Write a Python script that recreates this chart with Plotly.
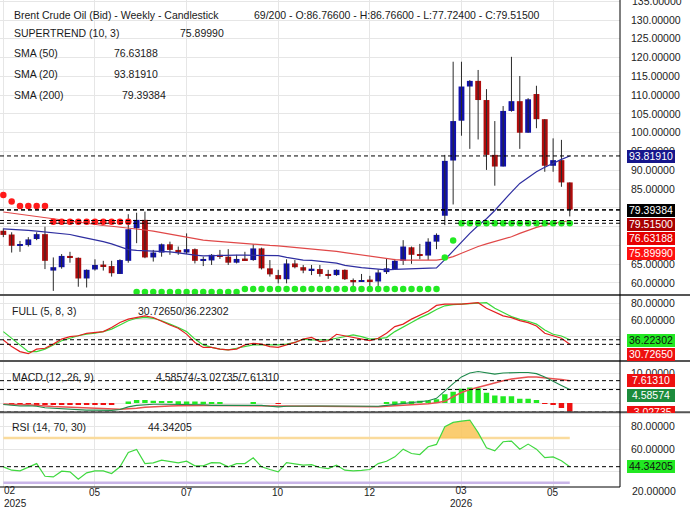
import plotly.graph_objects as go
from plotly.subplots import make_subplots

# ---------------- data (69 bars) ----------------
bar_idx = list(range(69))

opens = [73.9, 72.9, 69.85, 70.1, 71.7, 73.0, 63.3, 64.2, 67.2, 66.7,
         61.2, 63.6, 64.7, 64.5, 62.4, 65.9, 74.55, 76.8, 66.8, 68.1,
         70.3, 68.8, 68.1, 69.0, 66.0, 66.0, 67.5, 67.0, 65.4, 66.4,
         66.1, 69.2, 63.9, 62.1, 61.0, 65.2, 64.2, 63.4, 63.7, 62.2,
         62.1, 63.5, 60.8, 60.3, 60.7, 60.4, 62.9, 63.7, 65.9, 69.5,
         67.5, 67.3, 71.0, 77.9, 92.6, 103.2, 112.3, 113.8, 108.7, 94.1,
         91.0, 105.8, 108.4, 100.0, 110.3, 103.6, 91.2, 92.7, 86.766]
highs = [74.5, 73.5, 71.2, 72.2, 73.5, 75.0, 66.8, 67.7, 68.3, 66.8,
         63.6, 66.3, 65.9, 65.9, 66.3, 78.3, 78.7, 79.0, 68.8, 70.5,
         71.0, 69.7, 73.2, 69.2, 67.0, 67.7, 68.8, 69.0, 67.5, 68.3,
         70.3, 69.4, 66.1, 63.5, 66.3, 66.1, 64.8, 64.8, 64.8, 63.5,
         63.6, 63.6, 61.2, 62.4, 61.9, 63.6, 66.6, 66.4, 71.4, 69.7,
         70.4, 71.9, 73.2, 94.1, 118.9, 118.9, 114.0, 116.7, 111.6, 103.1,
         107.1, 120.2, 115.1, 109.2, 112.5, 103.6, 98.5, 98.1, 86.766]
lows = [72.2, 68.1, 68.3, 69.7, 71.4, 63.7, 57.9, 63.8, 65.4, 59.0,
        58.8, 63.3, 63.3, 61.7, 62.4, 65.4, 70.6, 66.6, 65.7, 67.0,
        67.5, 67.5, 67.7, 65.2, 64.5, 64.8, 66.4, 64.8, 65.2, 66.0,
        65.9, 63.6, 61.7, 59.9, 59.9, 63.9, 62.6, 62.1, 61.7, 61.1,
        61.9, 60.8, 58.6, 60.3, 59.2, 59.2, 62.4, 63.5, 64.8, 65.1,
        66.3, 66.1, 69.0, 75.4, 80.9, 99.2, 95.7, 98.2, 90.1, 85.9,
        91.0, 105.6, 95.7, 100.0, 101.2, 89.6, 89.6, 85.6, 77.724]
closes = [72.8, 69.9, 70.05, 71.6, 73.0, 65.9, 64.2, 67.2, 66.8, 61.2,
          63.5, 64.8, 64.5, 62.6, 66.1, 74.3, 76.8, 66.8, 68.1, 70.3,
          68.8, 68.1, 69.0, 65.9, 66.3, 67.5, 67.0, 65.4, 66.4, 66.1,
          69.2, 63.9, 62.3, 61.0, 65.2, 64.2, 63.3, 63.6, 62.4, 62.0,
          63.5, 61.0, 60.2, 60.6, 60.5, 62.8, 63.9, 65.9, 69.7, 67.5,
          67.2, 71.0, 72.8, 92.5, 103.1, 112.3, 113.8, 108.7, 94.1, 91.0,
          105.8, 108.4, 100.0, 108.9, 103.6, 91.2, 92.7, 86.766, 79.515]

sma20 = [74.4, 74.3, 74.2, 74.0, 73.8, 73.6, 73.3, 73.1, 72.9, 72.4,
         72.0, 71.6, 71.0, 70.4, 69.7, 68.9, 68.7, 68.6, 68.5, 68.4,
         68.3, 68.0, 67.6, 67.4, 67.2, 67.3, 67.4, 67.4, 67.4, 67.4,
         67.4, 67.4, 67.4, 67.3, 66.8, 66.4, 66.1, 66.0, 65.8, 65.7,
         65.3, 64.7, 64.3, 64.1, 63.9, 63.7, 63.5, 63.6, 63.7, 63.8,
         63.9, 63.9, 64.0, 66.2, 68.5, 71.0, 73.2, 75.3, 77.1, 79.3,
         81.9, 84.2, 86.5, 88.1, 89.6, 90.8, 91.9, 92.9, 93.8191]
sma50 = [78.9, 78.6, 78.3, 77.9, 77.6, 77.4, 77.1, 76.8, 76.5, 76.2,
         75.9, 75.6, 75.3, 75.1, 74.9, 74.7, 74.4, 74.1, 73.8, 73.4,
         73.0, 72.5, 72.0, 71.6, 71.4, 71.2, 71.0, 70.8, 70.7, 70.5,
         70.4, 70.2, 70.0, 69.9, 69.7, 69.5, 69.3, 69.1, 68.9, 68.6,
         68.4, 68.1, 67.8, 67.5, 67.1, 66.7, 66.4, 66.2, 66.1, 66.1,
         66.1, 66.1, 66.1, 66.4, 67.0, 67.9, 68.9, 69.7, 70.4, 71.0,
         71.7, 72.3, 73.2, 74.1, 74.8, 75.4, 75.8, 76.2, 76.63188]
sma200_last = 79.39384

# supertrend: bearish (dots above) for the first 16 bars, bullish afterwards
supertrend = [83.4, 81.7, 80.5, 80.5, 80.5, 80.5, 76.3, 76.3, 76.3, 76.3,
              76.3, 76.3, 76.3, 76.3, 76.3, 76.3, 57.6, 57.6, 57.6, 57.6,
              57.6, 57.6, 57.6, 57.6, 57.6, 57.6, 57.6, 57.6, 57.6, 58.4,
              58.4, 58.4, 58.4, 58.4, 58.4, 58.4, 58.4, 58.4, 58.4, 58.4,
              58.4, 58.4, 58.4, 58.4, 58.4, 58.4, 58.4, 58.4, 58.4, 58.4,
              58.4, 58.4, 58.4, 66.8, 71.3, 75.9, 75.9, 75.9, 75.9, 75.9,
              75.9, 75.9, 75.9, 75.9, 75.9, 75.9, 75.9, 75.9, 75.8999]
st_flip = 16

stoch_k = [36, 28, 22, 19.5, 25, 26, 31, 37, 40, 41,
           44, 45, 46, 51, 57, 61, 63, 65, 63, 58,
           54, 50, 43, 33, 27, 27, 25, 24, 25, 30,
           32, 31, 28, 27, 30, 33, 37, 39, 34, 35,
           42.8, 41, 38.8, 37, 35.2, 38, 44, 52, 55, 61,
           65.5, 70.5, 77.5, 79, 79, 79, 80, 80.8, 74, 69,
           65, 62.8, 59.2, 56.8, 52.8, 44, 40.8, 38, 30.7265]
stoch_d = [46, 38, 30, 22, 22, 25, 30, 35, 38, 41,
           43, 44, 46, 49, 54, 59, 62, 63, 62, 59,
           55, 51, 46, 37, 30, 27, 25, 24, 26, 28,
           30, 30, 30, 30, 31, 33, 37, 36, 36, 36,
           38, 40, 42, 40, 37, 37.5, 38.8, 46, 52, 57,
           62.5, 67, 72.5, 77, 78.5, 79, 80, 80.8, 80.8, 74,
           68.8, 64, 60.8, 58.5, 55, 48, 42.8, 40.8, 36.22302]

macd_line = [-0.5, -0.8, -1.0, -0.9, -1.1, -1.6, -1.8, -1.9, -2.1, -2.3,
             -2.4, -2.4, -2.5, -2.5, -2.2, -1.3, -0.8, -0.5, -0.4, -0.4,
             -0.4, -0.45, -0.5, -0.5, -0.6, -0.8, -0.8, -0.8, -0.8, -0.7,
             -0.7, -0.8, -1.1, -1.3, -1.1, -1.0, -1.0, -1.0, -1.0, -1.0,
             -1.0, -1.05, -1.1, -1.2, -1.25, -1.1, -0.8, -0.5, -0.15, 0.1,
             0.3, 0.8, 1.6, 4.2, 6.6, 8.9, 10.2, 10.75, 10.4, 9.85,
             10.2, 10.4, 10.4, 10.4, 10.0, 8.85, 7.3, 6.0, 4.58574]
macd_signal = [-0.3, -0.5, -0.6, -0.6, -0.7, -1.0, -1.2, -1.3, -1.5, -1.7,
               -1.8, -1.9, -2.0, -2.1, -2.1, -1.9, -1.8, -1.4, -1.2, -1.1,
               -1.0, -0.9, -0.8, -0.8, -0.8, -0.8, -0.8, -0.8, -0.8, -0.8,
               -0.8, -0.8, -0.9, -1.0, -1.0, -1.0, -1.0, -1.05, -1.1, -1.15,
               -1.2, -1.25, -1.3, -1.3, -1.35, -1.3, -1.1, -0.95, -0.8, -0.6,
               -0.4, -0.2, 0.1, 0.6, 2.2, 3.6, 4.6, 5.4, 6.2, 6.8,
               7.6, 8.2, 8.6, 8.85, 8.85, 8.7, 8.3, 8.0, 7.6131]
macd_hist = [0, -0.3, -0.35, -0.3, -0.4, -0.55, -0.6, -0.6, -0.6, -0.6,
             -0.6, -0.5, -0.5, -0.4, 0, 0.5, 1.0, 1.0, 0.8, 0.7,
             0.7, 0.6, 0.5, 0.5, 0.4, 0.3, 0.2, 0, 0, 0,
             0.3, 0, 0, -0.3, 0, 0, 0, 0, 0, 0,
             0, 0, 0, 0, 0, 0, 0.3, 0.5, 0.6, 0.6,
             0.8, 0.9, 1.3, 3.0, 3.8, 4.9, 5.3, 5.0, 3.5, 2.6,
             2.3, 2.3, 1.5, 1.5, 1.0, -0.2, -0.6, -1.7, -3.02735]

rsi = [44.2, 41.2, 40.6, 43.6, 47.1, 35.8, 35.2, 40.3, 39.7, 33.1,
       38.8, 40.6, 40.6, 38.2, 44.2, 57.0, 59.7, 47.1, 47.7, 50.1,
       48.6, 47.7, 49.2, 45.1, 45.1, 48.0, 47.7, 44.2, 47.1, 47.1,
       52.2, 44.2, 41.8, 39.7, 48.0, 46.6, 45.7, 46.2, 43.6, 42.7,
       45.7, 41.2, 40.6, 41.0, 41.8, 47.1, 49.2, 53.1, 60.0, 56.1,
       55.2, 62.1, 64.2, 80.0, 83.9, 85.1, 86.0, 74.7, 61.2, 58.5,
       66.6, 67.2, 60.0, 64.5, 60.0, 52.5, 53.1, 49.6, 44.34205]
RSI_HIGH, RSI_LOW = 70, 30

tick_bars = [0, 11, 22, 33, 44, 55, 66]
tick_months = ["02", "05", "07", "10", "12", "03", "05"]
tick_years = ["2025", "", "", "", "", "2026", ""]

price_ticks = [60, 65, 70, 75, 80, 85, 90, 95, 100, 105, 110, 115, 120, 125, 130, 135]
hidden_price_ticks = [70, 75, 80]   # sit behind the value boxes
top_price_label = 135               # half cut by the top edge, drawn separately

# ---------------- layout constants ----------------
FONT = "Liberation Sans"
FS = 10.5
PLOT_W, PLOT_H = 620, 487
PANE_PX = [(0, 295), (295, 361), (361, 412.3), (412.3, 487)]   # main, full, macd, rsi
X_RANGE = [-0.4, 74.03]
RANGES = [[56.8, 135.33], [10.7, 90.0], [-3.15, 14.3], [26.2, 92.9]]

BLUE, DARKRED = "#1010aa", "#b00c0c"
GRID = "#e6e6e6"
BOX_H, BOX_STEP = 12.5, 14.3

fig = make_subplots(rows=4, cols=1, shared_xaxes=True, vertical_spacing=0)

# ---- main pane: candles, SMAs, supertrend ----
wick_x, wick_y = [], []
for i, h, l in zip(bar_idx, highs, lows):
    wick_x += [i, i, None]
    wick_y += [l, h, None]
fig.add_trace(go.Scatter(x=wick_x, y=wick_y, mode="lines",
                         line=dict(color="#2a2a2a", width=1)), row=1, col=1)

body_base = [min(o, c) for o, c in zip(opens, closes)]
body_len = [max(abs(c - o), 0.4) for o, c in zip(opens, closes)]
body_col = [BLUE if c >= o else DARKRED for o, c in zip(opens, closes)]
fig.add_trace(go.Bar(x=bar_idx, y=body_len, base=body_base, width=0.7,
                     marker=dict(color=body_col, line=dict(width=0))), row=1, col=1)

fig.add_trace(go.Scatter(x=bar_idx, y=sma50, mode="lines",
                         line=dict(color="#e04848", width=1.2)), row=1, col=1)
fig.add_trace(go.Scatter(x=bar_idx, y=sma20, mode="lines",
                         line=dict(color="#2e2ea0", width=1.2)), row=1, col=1)

fig.add_trace(go.Scatter(x=bar_idx[:st_flip], y=supertrend[:st_flip], mode="markers",
                         marker=dict(color="#ff1a1a", size=6.5)), row=1, col=1)
fig.add_trace(go.Scatter(x=bar_idx[st_flip:], y=supertrend[st_flip:], mode="markers",
                         marker=dict(color="#22ea22", size=6.5)), row=1, col=1)

# ---- stochastic ----
fig.add_trace(go.Scatter(x=bar_idx, y=stoch_d, mode="lines",
                         line=dict(color="#3ad83a", width=1.2)), row=2, col=1)
fig.add_trace(go.Scatter(x=bar_idx, y=stoch_k, mode="lines",
                         line=dict(color="#e42020", width=1.2)), row=2, col=1)

# ---- MACD ----
hist_col = ["#22ea22" if v >= 0 else "#ee1111" for v in macd_hist]
fig.add_trace(go.Bar(x=bar_idx, y=macd_hist, width=0.65,
                     marker=dict(color=hist_col, line=dict(width=0))), row=3, col=1)
fig.add_trace(go.Scatter(x=bar_idx, y=macd_signal, mode="lines",
                         line=dict(color="#e85050", width=1.5)), row=3, col=1)
fig.add_trace(go.Scatter(x=bar_idx, y=macd_line, mode="lines",
                         line=dict(color="#1f8a4c", width=1.1)), row=3, col=1)

# ---- RSI with the overbought area filled ----
fx, fy = [], []
for i, v in enumerate(rsi):
    if i > 0 and (rsi[i - 1] - RSI_HIGH) * (v - RSI_HIGH) < 0:
        t = (RSI_HIGH - rsi[i - 1]) / (v - rsi[i - 1])
        fx.append(i - 1 + t)
        fy.append(RSI_HIGH)
    fx.append(i)
    fy.append(max(v, RSI_HIGH))
fig.add_trace(go.Scatter(x=fx, y=[RSI_HIGH] * len(fx), mode="lines",
                         line=dict(width=0)), row=4, col=1)
fig.add_trace(go.Scatter(x=fx, y=fy, mode="lines", line=dict(width=0),
                         fill="tonexty", fillcolor="rgba(249,196,88,0.85)"), row=4, col=1)
for lvl, col in [(RSI_HIGH, "#fadb9c"), (RSI_LOW, "#c9b5e8")]:
    fig.add_shape(type="line", xref="x4", yref="y4", x0=bar_idx[0], x1=bar_idx[-1],
                  y0=lvl, y1=lvl, line=dict(color=col, width=2.5), layer="between")
fig.add_trace(go.Scatter(x=bar_idx, y=rsi, mode="lines",
                         line=dict(color="#40d840", width=1.2)), row=4, col=1)

# ---------------- axes ----------------
def dom(k):
    top, bot = PANE_PX[k]
    return [1 - bot / PLOT_H, 1 - top / PLOT_H]

tick_sets = [
    (price_ticks, ["" if v in hidden_price_ticks else f"{v:.5f}" for v in price_ticks]),
    ([20, 40, 60, 80], ["", "", "60.00000", "80.00000"]),
    ([0, 5, 10], ["", "", "10.00000"]),
    ([40, 60, 80], ["", "60.00000", "80.00000"]),
]
for k in range(4):
    sfx = "" if k == 0 else str(k + 1)
    fig.layout["yaxis" + sfx].update(
        domain=dom(k), range=RANGES[k], side="right", tickvals=tick_sets[k][0],
        ticktext=tick_sets[k][1], showgrid=True, gridcolor=GRID, gridwidth=1,
        zeroline=False, showline=False, ticks="", ticklabelstandoff=10,
        automargin=False,
        tickfont=dict(family=FONT, size=FS, color="#222222"))
    fig.layout["xaxis" + sfx].update(
        range=X_RANGE, tickvals=tick_bars, showticklabels=False, showgrid=True,
        gridcolor=GRID, zeroline=False, showline=False, ticks="", automargin=False)

# top price label, partly above the page edge like the original
fig.add_annotation(text=f"{top_price_label:.5f}", xref="paper", yref="y",
                   x=1, xshift=10, xanchor="left", y=top_price_label, yanchor="middle",
                   showarrow=False, font=dict(family=FONT, size=FS, color="#222222"))

# ---------------- reference lines ----------------
dashed = [
    ("y", [sma20[-1], sma200_last, closes[-1], sma50[-1], supertrend[-1]]),
    ("y2", [stoch_k[-1], stoch_d[-1]]),
    ("y3", [macd_signal[-1], macd_line[-1], macd_hist[-1]]),
    ("y4", [rsi[-1]]),
]
for yref, vals in dashed:
    for v in vals:
        fig.add_shape(type="line", xref="paper", yref=yref, x0=0, x1=1, y0=v, y1=v,
                      line=dict(color="#000000", width=1, dash="4px,3px"))

# pane separators, right axis line, bottom line
for top, bot in PANE_PX[1:]:
    fig.add_shape(type="line", xref="paper", yref="paper", x0=0, x1=690 / PLOT_W,
                  y0=1 - top / PLOT_H, y1=1 - top / PLOT_H,
                  line=dict(color="#555555", width=2))
fig.add_shape(type="line", xref="paper", yref="paper", x0=1, x1=1, y0=0, y1=1,
              line=dict(color="#000000", width=1))
fig.add_shape(type="line", xref="paper", yref="paper", x0=0, x1=1, y0=0, y1=0,
              line=dict(color="#000000", width=1))

# ---------------- value boxes on the right axis ----------------
def value_boxes(k, items):
    lo, hi = RANGES[k]
    top, bot = PANE_PX[k]
    prev = None
    for v, bg, fg in items:
        y = top + (hi - v) / (hi - lo) * (bot - top)
        if prev is not None and y < prev + BOX_STEP:
            y = prev + BOX_STEP
        prev = y
        y0 = y - BOX_H / 2
        y1 = min(y + BOX_H / 2, bot)
        fig.add_annotation(text=f"{v:.5f}", xref="paper", yref="paper",
                           x=1, xshift=7, xanchor="left", y=1 - y0 / PLOT_H, yanchor="top",
                           width=48, height=y1 - y0, borderpad=0, borderwidth=0,
                           valign="middle" if y1 - y0 >= BOX_H else "top",
                           bgcolor=bg, showarrow=False,
                           font=dict(family=FONT, size=FS, color=fg))

value_boxes(0, [(sma20[-1], "#16168c", "white"), (sma200_last, "#000000", "white"),
                (closes[-1], "#a80000", "white"), (sma50[-1], "#e60000", "white"),
                (supertrend[-1], "#ff1010", "white")])
value_boxes(1, [(stoch_d[-1], "#22e822", "#111111"), (stoch_k[-1], "#ee1010", "white")])
value_boxes(2, [(macd_signal[-1], "#ee1010", "white"), (macd_line[-1], "#1c8c3c", "white"),
                (macd_hist[-1], "#ee1010", "white")])
value_boxes(3, [(rsi[-1], "#22e822", "#111111")])

# lowest RSI label hangs below the pane
lo, hi = RANGES[3]
y20 = PANE_PX[3][0] + (hi - 20) / (hi - lo) * (PANE_PX[3][1] - PANE_PX[3][0])
fig.add_annotation(text="20.00000", xref="paper", yref="paper", x=1, xshift=10,
                   xanchor="left", y=1 - (y20 - 3) / PLOT_H, yanchor="middle", showarrow=False,
                   font=dict(family=FONT, size=FS, color="#222222"))

# ---------------- legends ----------------
def note(text, xpx, ypx):
    fig.add_annotation(text=text, xref="paper", yref="paper", x=xpx / PLOT_W,
                       y=1 - ypx / PLOT_H, xanchor="left", yanchor="middle",
                       showarrow=False, font=dict(family=FONT, size=FS, color="#1a1a1a"))

note("Brent Crude Oil (Bid) - Weekly - Candlestick", 11.7, 14.7)
note(f"{len(bar_idx)}/200 - O:{opens[-1]:.5f} - H:{highs[-1]:.5f} - "
     f"L:{lows[-1]:.5f} - C:{closes[-1]:.5f}", 251.7, 14.7)
note("SUPERTREND (10, 3)", 11.7, 33.3)
note(f"{supertrend[-1]:.5f}", 178.3, 33.3)
note("SMA (50)", 11.7, 53.3)
note(f"{sma50[-1]:.5f}", 112, 53.3)
note("SMA (20)", 11.7, 74)
note(f"{sma20[-1]:.5f}", 112, 74)
note("SMA (200)", 11.7, 95)
note(f"{sma200_last:.5f}", 120, 95)
note("FULL (5, 8, 3)", 10, 310.7)
note(f"{stoch_k[-1]:.5f}/{stoch_d[-1]:.5f}", 136, 310.7)
note("MACD (12, 26, 9)", 10, 376.7)
note(f"{macd_line[-1]:.5f}/{macd_hist[-1]:.5f}/{macd_signal[-1]:.5f}", 154, 376.7)
note("RSI (14, 70, 30)", 10, 427.3)
note(f"{rsi[-1]:.5f}", 146, 427.3)

# ---------------- x labels (month, with the year wrapped under it) ----------------
XFS = 10
for n, (b, m, yr) in enumerate(zip(tick_bars, tick_months, tick_years)):
    if yr:
        fig.add_annotation(text=f"{m}<br>{yr}", xref="x4", yref="paper", x=b,
                           xanchor="left" if n == 0 else "center",
                           align="left" if n == 0 else "center",
                           y=1 - 509.5 / PLOT_H, yanchor="bottom", showarrow=False,
                           borderpad=0, font=dict(family=FONT, size=XFS, color="#222222"))
    else:
        fig.add_annotation(text=m, xref="x4", yref="paper", x=b, xanchor="center",
                           y=1 - 492.7 / PLOT_H, yanchor="middle", showarrow=False,
                           borderpad=0, font=dict(family=FONT, size=XFS, color="#222222"))

fig.update_layout(width=690, height=510, margin=dict(l=0, r=70, t=0, b=23, autoexpand=False),
                  paper_bgcolor="white", plot_bgcolor="white", showlegend=False,
                  barmode="overlay", hovermode=False)

fig.write_html("out.html", config={"displayModeBar": False},
               post_script="document.body.style.margin='0';")
